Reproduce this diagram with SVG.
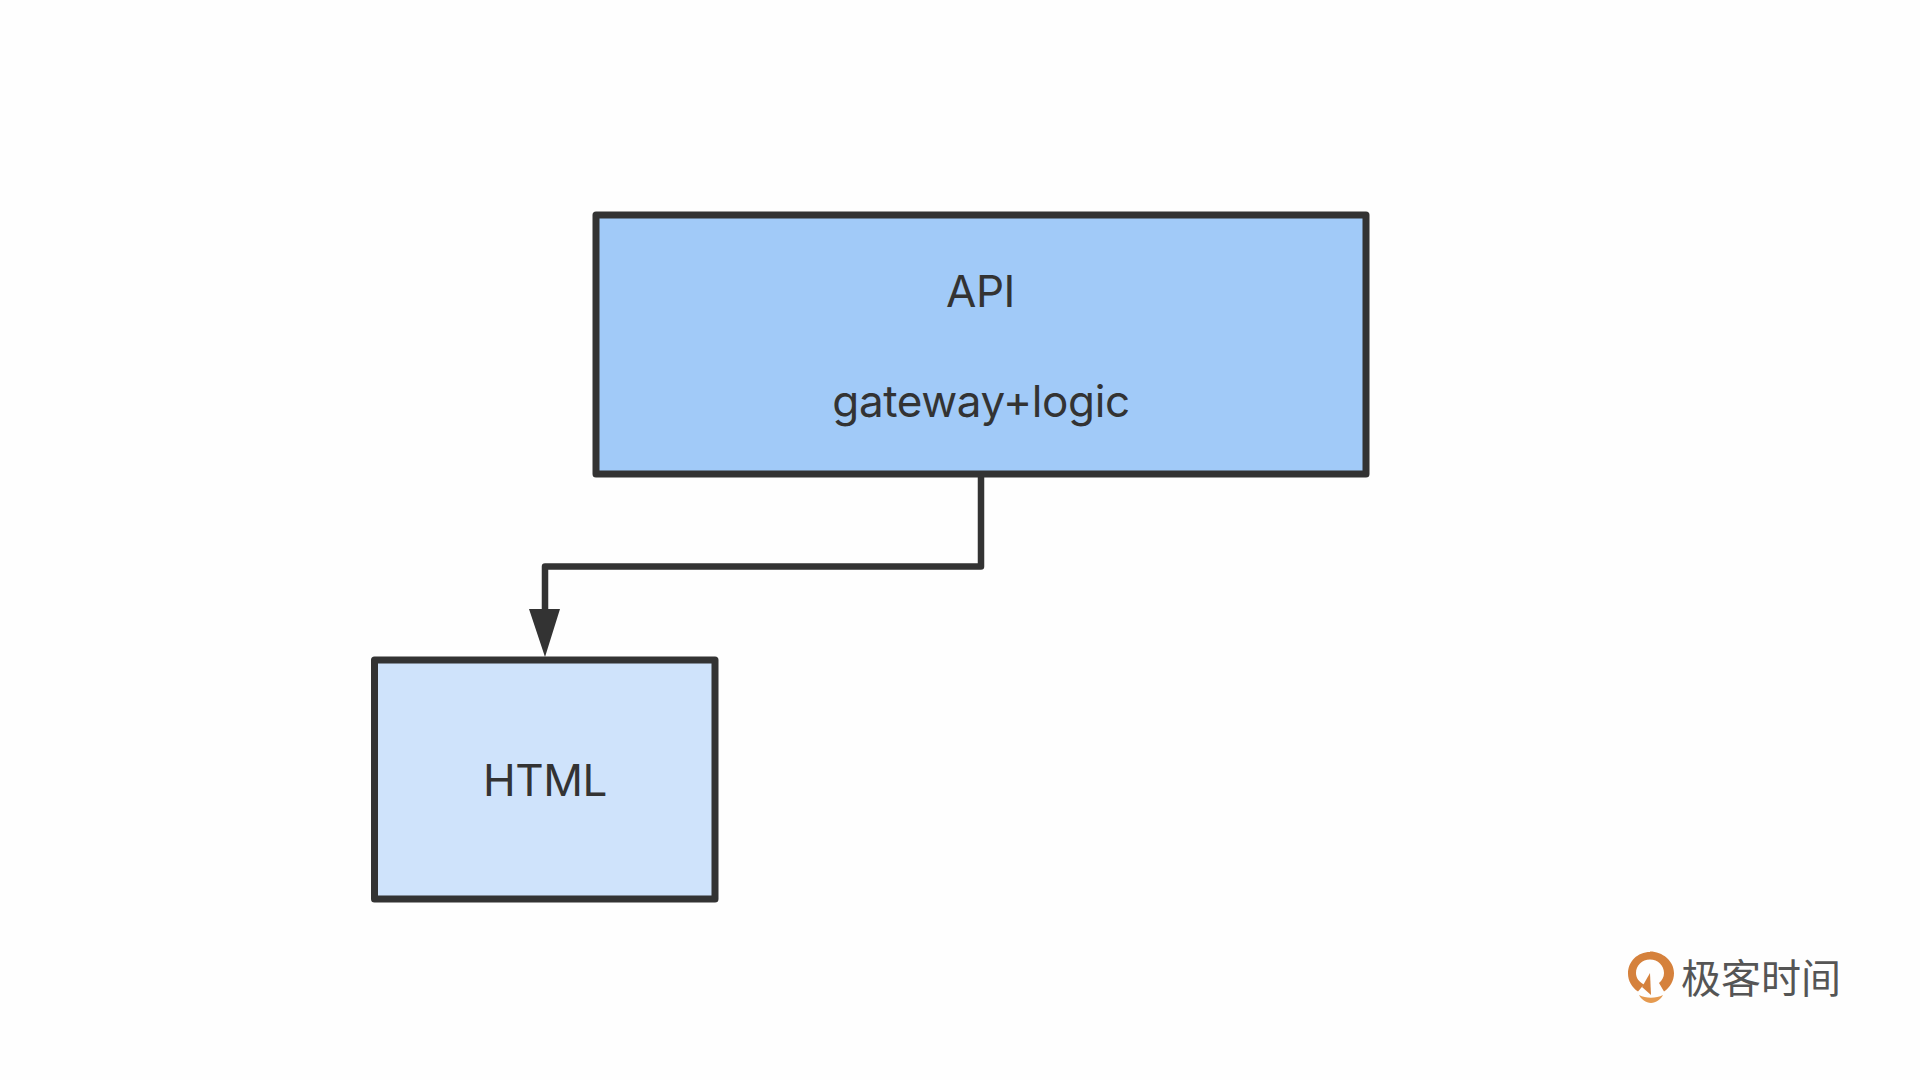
<svg xmlns="http://www.w3.org/2000/svg" width="1920" height="1080" viewBox="0 0 1920 1080">
<style>
.box{stroke:#333333;stroke-width:7;stroke-linejoin:round}
.lbl{font-family:"Inter","Liberation Sans",sans-serif;font-size:44px;fill:#333333;text-anchor:middle;letter-spacing:-.4px}
.conn{fill:none;stroke:#333333;stroke-width:6.500;stroke-linejoin:round;stroke-linecap:round}
</style>
<rect width="1920" height="1080" fill="#fefefe"/>
<g id="connectors">
<path class="conn" d="M981 477V566.500H545V612"/>
<polygon points="529,609 560,609 545,657" fill="#333333"/>
</g>
<g id="node-api">
<rect class="box" x="596" y="215" width="770" height="259" fill="#a1caf8"/>
<text class="lbl" x="980.500" y="307">API</text>
<text class="lbl" x="981" y="417">gateway+logic</text>
</g>
<g id="node-html">
<rect class="box" x="374.500" y="660" width="340.500" height="239" fill="#cfe3fb"/>
<text class="lbl" x="545" y="796">HTML</text>
</g>
<g id="logo">
<path fill="#d5813c" fill-rule="evenodd" d="M1650 952c-12.500 0-22 9.500-22 21.500 0 7.500 4 14 10 18l6-7c-5-2.500-8-6.500-8-11.500 0-7.500 6-13.500 14-13.500s14 6 14 13.500c0 4-2 7.500-5 10l5 8.500c6-4 10-10.500 10-18.500 0-12-11.500-21.500-24-21.500z"/>
<path fill="#d5813c" d="M1650 973l1 22-9-8z"/>
<path fill="#e59a50" d="M1639 995c7 3.500 17 3.500 24 0-2 4-7 8-12 8s-10-4-12-8z"/>
<text x="1681" y="993" style="font-family:'Noto Sans CJK SC',sans-serif;font-size:40px;font-weight:400;fill:#555555" >极客时间</text>
</g>
</svg>
